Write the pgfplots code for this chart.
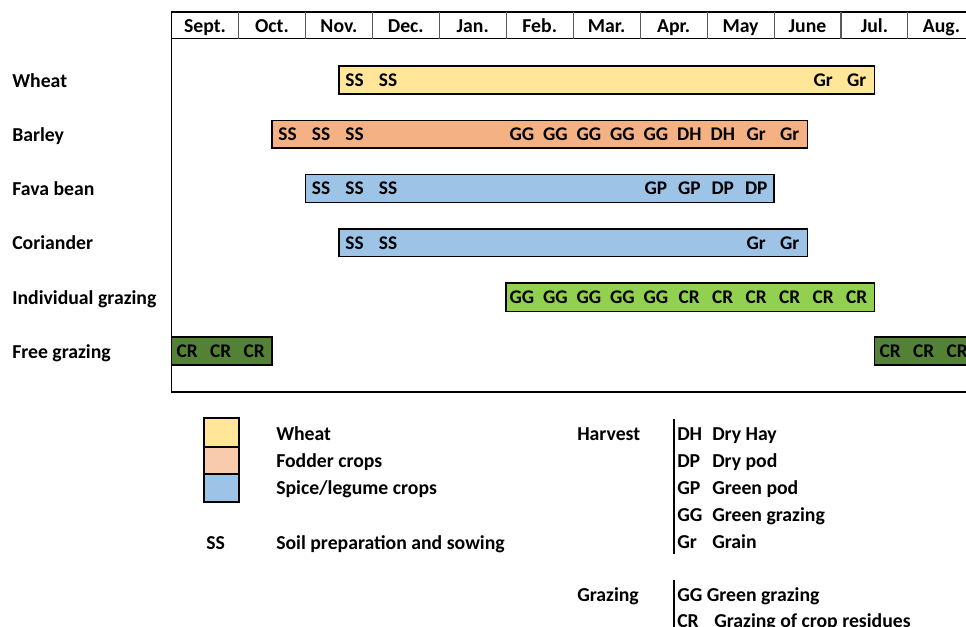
\documentclass[border=0pt]{standalone}
\usepackage{fontspec}
\setmainfont{Carlito}
\usepackage{pgfplots}
\pgfplotsset{compat=1.18}
\usepackage{pgfplotstable}

\definecolor{wheatc}{HTML}{FFE699}
\definecolor{fodderc}{HTML}{F4B183}
\definecolor{fodderL}{HTML}{F8CBAD}
\definecolor{spicec}{HTML}{9DC3E6}
\definecolor{limec}{HTML}{92D050}
\definecolor{darkg}{HTML}{548235}

% bar labels: x (months from start of Sept.), y (row centre), label
\pgfplotstableread{
x y lab
2.75 80 SS
3.25 80 SS
9.75 80 Gr
10.25 80 Gr
1.75 134.2 SS
2.25 134.2 SS
2.75 134.2 SS
5.25 134.2 GG
5.75 134.2 GG
6.25 134.2 GG
6.75 134.2 GG
7.25 134.2 GG
7.75 134.2 DH
8.25 134.2 DH
8.75 134.2 Gr
9.25 134.2 Gr
2.25 188.4 SS
2.75 188.4 SS
3.25 188.4 SS
7.25 188.4 GP
7.75 188.4 GP
8.25 188.4 DP
8.75 188.4 DP
2.75 242.6 SS
3.25 242.6 SS
8.75 242.6 Gr
9.25 242.6 Gr
5.25 296.8 GG
5.75 296.8 GG
6.25 296.8 GG
6.75 296.8 GG
7.25 296.8 GG
7.75 296.8 CR
8.25 296.8 CR
8.75 296.8 CR
9.25 296.8 CR
9.75 296.8 CR
10.25 296.8 CR
0.25 351 CR
0.75 351 CR
1.25 351 CR
10.75 351 CR
11.25 351 CR
11.75 351 CR
}\barlabels

\begin{document}
\fontsize{14.8}{17}\selectfont\bfseries
\begin{tikzpicture}[x=0.75pt,y=-0.75pt]
\useasboundingbox (0,0) rectangle (966,627);
\clip (0,0) rectangle (966,627);
\begin{axis}[
  at={(128.625pt,-294pt)}, anchor=south west,
  scale only axis, width=602.55pt, height=285pt,
  xmin=0, xmax=12, ymin=12, ymax=392, y dir=reverse,
  axis line style={line width=1.3pt, black},
  major tick length=0pt,
  xticklabel pos=upper,
  xtick={0.5,1.5,2.5,3.5,4.5,5.5,6.5,7.5,8.5,9.5,10.5,11.5},
  xticklabels={Sept.,Oct.,Nov.,Dec.,Jan.,Feb.,Mar.,Apr.,May,June,Jul.,Aug.},
  x tick label style={anchor=base, inner sep=0pt, yshift=-15.2pt},
  ytick={80,134.2,188.4,242.6,296.8,351},
  yticklabels={Wheat,Barley,Fava bean,Coriander,Individual grazing,Free grazing},
  y tick label style={anchor=base west, inner sep=0pt, xshift=-119.6pt, yshift=-5.5pt},
  bar line/.style={draw=black, line width=1.2pt},
]
% header row
\draw[line width=1pt, black] (axis cs:0,38.5) -- (axis cs:12,38.5);
\pgfplotsinvokeforeach{1,...,11}{
  \draw[line width=0.8pt, black!65] (axis cs:#1,12) -- (axis cs:#1,38.5);
}
% bars: (start,top) (end,top) (end,bottom) (start,bottom)
\addplot[bar line, fill=wheatc]  coordinates {(2.5,66) (10.5,66) (10.5,94) (2.5,94)} -- cycle;
\addplot[bar line, fill=fodderc] coordinates {(1.5,120.5) (9.5,120.5) (9.5,148) (1.5,148)} -- cycle;
\addplot[bar line, fill=spicec]  coordinates {(2,174.5) (9,174.5) (9,202.5) (2,202.5)} -- cycle;
\addplot[bar line, fill=spicec]  coordinates {(2.5,229) (9.5,229) (9.5,256.5) (2.5,256.5)} -- cycle;
\addplot[bar line, fill=limec]   coordinates {(5,283) (10.5,283) (10.5,311.5) (5,311.5)} -- cycle;
\addplot[bar line, fill=darkg]   coordinates {(0,337) (1.5,337) (1.5,365) (0,365)} -- cycle;
\addplot[bar line, fill=darkg]   coordinates {(10.5,337) (12.5,337) (12.5,365) (10.5,365)} -- cycle;
% labels in bars
\addplot[only marks, mark=none, nodes near coords, point meta=explicit symbolic,
  nodes near coords style={anchor=base, inner sep=0pt, yshift=-4.9pt, xshift=-0.8pt, font=\fontsize{14.5}{17}\selectfont\bfseries}]
  table[x=x, y=y, meta=lab] {\barlabels};
\end{axis}

% legend (left)
\draw[line width=1.1pt, fill=wheatc]  (204,418) rectangle (239,447);
\draw[line width=1.1pt, fill=fodderL] (204,447) rectangle (239,474);
\draw[line width=1.1pt, fill=spicec]  (204,474) rectangle (239,502);
\node[anchor=base west, inner sep=0pt] at (276,440) {Wheat};
\node[anchor=base west, inner sep=0pt] at (276,467) {Fodder crops};
\node[anchor=base west, inner sep=0pt] at (276,494) {Spice/legume crops};
\node[anchor=base west, inner sep=0pt] at (206,549) {SS};
\node[anchor=base west, inner sep=0pt] at (276,549) {Soil preparation and sowing};

% legend (right)
\node[anchor=base west, inner sep=0pt] at (577,440) {Harvest};
\draw[line width=0.8pt] (674,419) -- (674,554);
\node[anchor=base west, inner sep=0pt] at (677,440) {DH};
\node[anchor=base west, inner sep=0pt] at (712,440) {Dry Hay};
\node[anchor=base west, inner sep=0pt] at (677,467) {DP};
\node[anchor=base west, inner sep=0pt] at (712,467) {Dry pod};
\node[anchor=base west, inner sep=0pt] at (677,494) {GP};
\node[anchor=base west, inner sep=0pt] at (712,494) {Green pod};
\node[anchor=base west, inner sep=0pt] at (677,521) {GG};
\node[anchor=base west, inner sep=0pt] at (712,521) {Green grazing};
\node[anchor=base west, inner sep=0pt] at (677,548) {Gr};
\node[anchor=base west, inner sep=0pt] at (712,548) {Grain};

\node[anchor=base west, inner sep=0pt] at (577,601) {Grazing};
\draw[line width=0.8pt] (674,580) -- (674,640);
\node[anchor=base west, inner sep=0pt] at (677,601) {GG Green grazing};
\node[anchor=base west, inner sep=0pt] at (677,627) {CR};
\node[anchor=base west, inner sep=0pt] at (714,627) {Grazing of crop residues};
\end{tikzpicture}
\end{document}
